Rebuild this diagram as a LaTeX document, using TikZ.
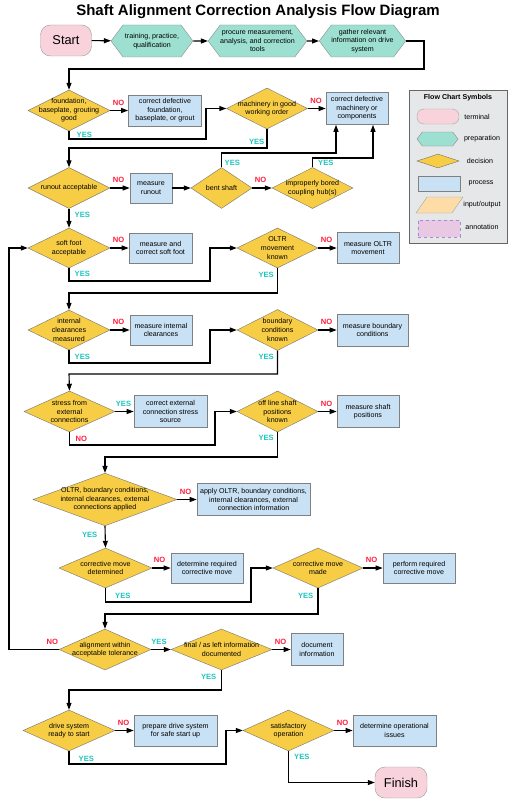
\documentclass[tikz,border=0pt]{standalone}
\usepackage{fontspec}
\setsansfont{Liberation Sans}
\usetikzlibrary{positioning, arrows.meta, shapes.geometric, shapes.symbols}

\definecolor{termpink}{HTML}{F9D3DC}
\definecolor{prepgreen}{HTML}{9DE0D1}
\definecolor{decyellow}{HTML}{F8CD46}
\definecolor{procblue}{HTML}{C9E1F4}
\definecolor{ioorange}{HTML}{FDDCA8}
\definecolor{notepink}{HTML}{E8C8E2}
\definecolor{notepurple}{HTML}{A48AD8}
\definecolor{yescyan}{HTML}{1CC6BF}
\definecolor{nored}{HTML}{FF1E3C}
\definecolor{legendgray}{HTML}{E6E7E8}

\begin{document}
\begin{tikzpicture}[x=1pt,y=-1pt,font=\sffamily,
txt/.style={font=\sffamily\fontsize{7.1}{8.6}\selectfont},
terminal/.style={draw=black!40, fill=termpink, rounded corners=10pt, minimum width=51pt, minimum height=31pt, font=\sffamily\fontsize{12.8}{14}\selectfont},
prep/.style={txt, signal, signal to=east and west, signal pointer angle=106, draw=black!45, fill=prepgreen, inner sep=0pt, minimum height=32pt, align=center},
decision/.style={txt, diamond, draw=black!55, fill=decyellow, inner sep=-15pt, align=center},
process/.style={txt, rectangle, draw=black!50, line width=0.7pt, fill=procblue, inner sep=0pt, align=center},
yes/.style={text=yescyan, font=\sffamily\bfseries\fontsize{7.6}{8}\selectfont, inner sep=0pt},
no/.style={text=nored, font=\sffamily\bfseries\fontsize{7.6}{8}\selectfont, inner sep=0pt},
line/.style={line width=1.1pt, black},
arrow/.style={line, -{Triangle[length=7pt,width=5pt]}}]

\fill[white] (0,0) rectangle (516,800);
\useasboundingbox (0,0) rectangle (516,800);

% Title
\node[font=\sffamily\bfseries\fontsize{15}{18}\selectfont] (title) at (258,12) {Shaft Alignment Correction Analysis Flow Diagram};

% Start and preparation
\node[terminal] (start) at (66,40.5) {Start};
\node[prep, minimum width=82pt] (train) at (152,41) {training, practice,\\qualification};
\node[prep, minimum width=91pt] (procure) at (257.5,41) {procure measurement,\\analysis, and correction\\tools};
\node[prep, minimum width=83pt] (gather) at (362.5,41) {gather relevant\\information on drive\\system};

% Foundation and machinery
\node[decision, minimum width=82pt, minimum height=41pt] (found) at (69,110.5) {foundation,\\baseplate, grouting\\good};
\node[process, minimum width=73pt, minimum height=31pt] (fixfound) at (165,110.5) {correct defective\\foundation,\\baseplate, or grout};
\node[decision, minimum width=81pt, minimum height=41pt] (mach) at (267,108.5) {machinery in good\\working order};
\node[process, minimum width=62pt, minimum height=32pt] (fixmach) at (357,108.5) {correct defective\\machinery or\\components};

% Runout
\node[decision, minimum width=82pt, minimum height=41pt] (runout) at (69,188) {runout acceptable};
\node[process, minimum width=42pt, minimum height=30pt] (runmeas) at (151,188) {measure\\runout};
\node[decision, minimum width=61pt, minimum height=41pt] (bent) at (221.5,188) {bent shaft};
\node[decision, minimum width=81pt, minimum height=41pt] (bored) at (312.5,188) {improperly bored\\coupling hub(s)};

% Soft foot and OLTR
\node[decision, minimum width=82pt, minimum height=40pt] (soft) at (69,248) {soft foot\\acceptable};
\node[process, minimum width=63pt, minimum height=30pt] (softfix) at (160.5,248) {measure and\\correct soft foot};
\node[decision, minimum width=81pt, minimum height=40pt] (oltr) at (277.5,248) {OLTR\\movement\\known};
\node[process, minimum width=62pt, minimum height=31pt] (oltrmeas) at (368,248) {measure OLTR\\movement};

% Clearances and boundary conditions
\node[decision, minimum width=82pt, minimum height=40pt] (intcl) at (69,330) {internal\\clearances\\measured};
\node[process, minimum width=62pt, minimum height=30pt] (intmeas) at (161,330) {measure internal\\clearances};
\node[decision, minimum width=81pt, minimum height=41pt] (bound) at (277.5,330) {boundary\\conditions\\known};
\node[process, minimum width=71pt, minimum height=32pt] (boundmeas) at (372.5,330) {measure boundary\\conditions};

% External connections and shaft positions
\node[decision, minimum width=91pt, minimum height=41pt] (stress) at (69.5,411.5) {stress from\\external\\connections};
\node[process, minimum width=73pt, minimum height=32pt] (stressfix) at (170.5,411.5) {correct external\\connection stress\\source};
\node[decision, minimum width=81pt, minimum height=41pt] (offline) at (277.5,411.5) {off line shaft\\positions\\known};
\node[process, minimum width=62pt, minimum height=32pt] (posmeas) at (368,411.5) {measure shaft\\positions};

% Applied information
\node[decision, minimum width=144pt, minimum height=51pt] (applied) at (105,499.5) {OLTR, boundary conditions,\\internal clearances, external\\connections applied};
\node[process, minimum width=113pt, minimum height=32pt] (applyinfo) at (253.5,499.5) {apply OLTR, boundary conditions,\\internal clearances, external\\connection information};

% Corrective move
\node[decision, minimum width=93pt, minimum height=40pt] (cmdet) at (105.5,568) {corrective move\\determined};
\node[process, minimum width=72pt, minimum height=30pt] (cmfind) at (207,568) {determine required\\corrective move};
\node[decision, minimum width=90pt, minimum height=40pt] (cmmade) at (318,568) {corrective move\\made};
\node[process, minimum width=72pt, minimum height=30pt] (cmdo) at (419,568) {perform required\\corrective move};

% Alignment and documentation
\node[decision, minimum width=92pt, minimum height=41pt] (align) at (105,649.5) {alignment within\\acceptable tolerance};
\node[decision, minimum width=101pt, minimum height=41pt] (final) at (221.5,649.5) {final / as left information\\documented};
\node[process, minimum width=52pt, minimum height=32pt] (docinfo) at (317,649.5) {document\\information};

% Start up
\node[decision, minimum width=92pt, minimum height=41pt] (drive) at (69,730.5) {drive system\\ready to start};
\node[process, minimum width=83pt, minimum height=31pt] (prepdrive) at (175.5,730.5) {prepare drive system\\for safe start up};
\node[decision, minimum width=91pt, minimum height=41pt] (satis) at (288.5,730.5) {satisfactory\\operation};
\node[process, minimum width=83pt, minimum height=31pt] (opissues) at (394.5,730.5) {determine operational\\issues};
\node[terminal, minimum width=52pt] (finish) at (401,782.5) {Finish};

% Connectors
\draw[arrow] (start) -- (train);
\draw[arrow] (train) -- (procure);
\draw[arrow] (procure) -- (gather);
\draw[arrow] (gather.east) -| (424,69) -| (found.north);
\draw[arrow] (found.east) -- (fixfound.west);
\draw[arrow] (found.south) |- (206,139) |- (mach.west);
\draw[arrow] (mach.east) -- (fixmach.west);
\draw[arrow] (mach.south) |- (69,148) -- (runout.north);
\draw[arrow] (runout.east) -- (runmeas.west);
\draw[arrow] (runmeas.east) -- (bent.west);
\draw[arrow] (bent.east) -- (bored.west);
\draw[arrow] (bent.north) |- (336,153) -- ([xshift=-21pt]fixmach.south);
\draw[arrow] (bored.north) |- (373,158) -- ([xshift=16pt]fixmach.south);
\draw[arrow] (runout.south) -- (soft.north);
\draw[arrow] (soft.east) -- (softfix.west);
\draw[arrow] (soft.south) |- (210,281) |- (oltr.west);
\draw[arrow] (oltr.east) -- (oltrmeas.west);
\draw[arrow] (oltr.south) |- (69,293) -- (intcl.north);
\draw[arrow] (intcl.east) -- (intmeas.west);
\draw[arrow] (intcl.south) |- (210,363) |- (bound.west);
\draw[arrow] (bound.east) -- (boundmeas.west);
\draw[arrow] (bound.south) |- (69,374) -- (stress.north);
\draw[arrow] (stress.east) -- (stressfix.west);
\draw[arrow] (stress.south) |- (215,445) |- (offline.west);
\draw[arrow] (offline.east) -- (posmeas.west);
\draw[arrow] (offline.south) |- (105,457) -- (applied.north);
\draw[arrow] (applied.east) -- (applyinfo.west);
\draw[arrow] (applied.south) -- (cmdet.north);
\draw[arrow] (cmdet.east) -- (cmfind.west);
\draw[arrow] (cmdet.south) |- (251,602) |- (cmmade.west);
\draw[arrow] (cmmade.east) -- (cmdo.west);
\draw[arrow] (cmmade.south) |- (105,614) -- (align.north);
\draw[arrow] (align.west) -| (9,248) -- (soft.west);
\draw[arrow] (align.east) -- (final.west);
\draw[arrow] (final.east) -- (docinfo.west);
\draw[arrow] (final.south) |- (69,690) -- (drive.north);
\draw[arrow] (drive.east) -- (prepdrive.west);
\draw[arrow] (drive.south) |- (226,764) |- (satis.west);
\draw[arrow] (satis.east) -- (opissues.west);
\draw[arrow] (satis.south) |- (finish.west);

% NO labels
\node[no, above right=5pt and 2.5pt of found.east] {NO};
\node[no, above right=5pt and 2.5pt of mach.east] {NO};
\node[no, above right=5pt and 2.5pt of runout.east] {NO};
\node[no, above right=5pt and 2.5pt of bent.east] {NO};
\node[no, above right=5pt and 2.5pt of soft.east] {NO};
\node[no, above right=5pt and 2.5pt of oltr.east] {NO};
\node[no, above right=5pt and 2.5pt of intcl.east] {NO};
\node[no, above right=5pt and 2.5pt of bound.east] {NO};
\node[no, below right=4pt and 6pt of stress.south] {NO};
\node[no, above right=5pt and 2.5pt of offline.east] {NO};
\node[no, above right=5pt and 2.5pt of applied.east] {NO};
\node[no, above right=5pt and 1.5pt of cmdet.east] {NO};
\node[no, above right=5pt and 2.5pt of cmmade.east] {NO};
\node[no, above left=4.5pt and 0.5pt of align.west] {NO};
\node[no, above right=5pt and 2.5pt of final.east] {NO};
\node[no, above right=5pt and 2.5pt of drive.east] {NO};
\node[no, above right=5pt and 2.5pt of satis.east] {NO};

% YES labels
\node[yes, below right=1pt and 7.5pt of found.south] {YES};
\node[yes, below left=10pt and 2.5pt of mach.south] {YES};
\node[yes, above right=1.5pt and 3pt of bent.north] {YES};
\node[yes, above right=1.5pt and 5.5pt of bored.north] {YES};
\node[yes, below right=3pt and 5.5pt of runout.south] {YES};
\node[yes, below right=3pt and 5.5pt of soft.south] {YES};
\node[yes, below left=4pt and 3.5pt of oltr.south] {YES};
\node[yes, below right=4pt and 5.5pt of intcl.south] {YES};
\node[yes, below left=3pt and 3.5pt of bound.south] {YES};
\node[yes, above right=4.5pt and 0.5pt of stress.east] {YES};
\node[yes, below left=3pt and 3.5pt of offline.south] {YES};
\node[yes, below left=6pt and 7.5pt of applied.south] {YES};
\node[yes, below right=5pt and 9.5pt of cmdet.south] {YES};
\node[yes, below left=5pt and 4.5pt of cmmade.south] {YES};
\node[yes, above right=4.5pt and 0pt of align.east] {YES};
\node[yes, below left=4pt and 5pt of final.south] {YES};
\node[yes, below right=5pt and 9.5pt of drive.south] {YES};
\node[yes, below right=3pt and 5.5pt of satis.south] {YES};

% Legend
\node[draw=black!60, fill=legendgray, line width=1pt, minimum width=98pt, minimum height=153pt, inner sep=0pt] (legend) at (458,166.5) {};
\node[font=\sffamily\bfseries\fontsize{7.1}{8}\selectfont] (legendtitle) at (458,98) {Flow Chart Symbols};
\node[draw=black!35, fill=termpink, rounded corners=7pt, minimum width=42pt, minimum height=15pt] (keyterm) at (438,116.5) {};
\node[txt] (keytermtext) at (477,117) {terminal};
\node[prep, minimum width=41pt, minimum height=14pt] (keyprep) at (437.5,139) {};
\node[txt] (keypreptext) at (482,139) {preparation};
\node[decision, minimum width=42pt, minimum height=14pt] (keydec) at (438,161) {};
\node[txt] (keydectext) at (480,161) {decision};
\node[process, minimum width=42pt, minimum height=15pt] (keyproc) at (439,183.5) {};
\node[txt] (keyproctext) at (481,183) {process};
\node[trapezium, trapezium left angle=66, trapezium right angle=114, trapezium stretches=true, draw=black!35, fill=ioorange, minimum width=47pt, minimum height=16pt] (keyio) at (439.5,205) {};
\node[txt] (keyiotext) at (482,205) {input/output};
\node[draw=notepurple, dashed, fill=notepink, minimum width=42pt, minimum height=17pt] (keynote) at (439,228.5) {};
\node[txt] (keynotetext) at (482,227) {annotation};
\end{tikzpicture}
\end{document}
